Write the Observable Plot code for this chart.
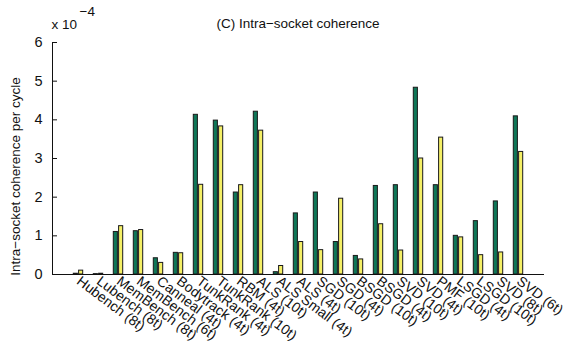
<!DOCTYPE html>
<html>
<head>
<meta charset="utf-8">
<script src="https://cdn.jsdelivr.net/npm/d3@7"></script>
<script src="https://cdn.jsdelivr.net/npm/@observablehq/plot@0.6"></script>
<style>
  html, body { margin: 0; padding: 0; background: #fff; }
  #chart svg { font-family: "Liberation Sans", Arial, sans-serif; }
</style>
</head>
<body>
<div id="chart"></div>
<script>
const categories = [
  "Hubench (8t)", "Lubench (8t)", "MemBench (8t)", "MemBench (6t)", "Canneal (4t)",
  "Bodytrack (4t)", "TunkRank (4t)", "TunkRank (10t)", "RBM (4t)", "ALS (10t)",
  "ALS Small (4t)", "ALS (4t)", "SGD (10t)", "SGD (4t)", "BSGD (10t)", "BSGD (4t)",
  "SVD (10t)", "SVD (4t)", "PMF (10t)", "LSGD (4t)", "LSGD (10t)", "SVD (8t)", "SVD (6t)"
];
const greenValues = [0.02, 0.01, 1.10, 1.12, 0.42, 0.56, 4.13, 3.98, 2.12, 4.21,
  0.06, 1.58, 2.12, 0.84, 0.48, 2.29, 2.31, 4.83, 2.31, 1.00, 1.38, 1.89, 4.09];
const yellowValues = [0.10, 0.02, 1.25, 1.15, 0.30, 0.55, 2.32, 3.83, 2.31, 3.72,
  0.22, 0.84, 0.63, 1.96, 0.39, 1.30, 0.62, 3.00, 3.54, 0.96, 0.50, 0.57, 3.17];
const yTicks = [0, 1, 2, 3, 4, 5, 6];
const titleText = "(C) Intra\u2212socket coherence";
const yLabel = "Intra\u2212socket coherence per cycle";
const exponentBase = "x 10";
const exponentPower = "\u22124";

const greenData = categories.map((c, i) => ({cat: c, v: greenValues[i]}));
const yellowData = categories.map((c, i) => ({cat: c, v: yellowValues[i]}));

const chart = Plot.plot({
  width: 567,
  height: 348,
  marginLeft: 52,
  marginRight: 24,
  marginTop: 42,
  marginBottom: 74,
  style: {fontSize: "13px", fontFamily: "Liberation Sans, Arial, sans-serif", color: "#111"},
  x: {domain: categories, paddingInner: 0.5, paddingOuter: 0.7},
  y: {domain: [0, 6]},
  marks: [
    Plot.barY(greenData, {x: "cat", y: "v", fill: "#0f7657", stroke: "#1a1a1a", strokeWidth: 1, insetRight: 5.6, insetLeft: 0.3}),
    Plot.barY(yellowData, {x: "cat", y: "v", fill: "#f4ef66", stroke: "#1a1a1a", strokeWidth: 1, insetLeft: 5.6, insetRight: 0.3}),
    Plot.axisY({ticks: yTicks, tickFormat: d3.format("d"), tickSize: -5, tickPadding: 15, label: null, fontSize: 14.5}),
    Plot.axisX({tickSize: 0, tickPadding: 5, tickRotate: 37, label: null, fontSize: 14}),
    Plot.frame({anchor: "left", stroke: "#111"}),
    Plot.frame({anchor: "bottom", stroke: "#111"}),
    Plot.text([titleText], {frameAnchor: "top", dy: -24, fontSize: 13.5}),
    Plot.text([exponentBase], {frameAnchor: "top-left", textAnchor: "start", dx: -1, dy: -23, fontSize: 13.5}),
    Plot.text([exponentPower], {frameAnchor: "top-left", textAnchor: "start", dx: 27, dy: -36, fontSize: 13.5}),
    Plot.text([yLabel], {frameAnchor: "left", textAnchor: "middle", rotate: -90, dx: -37, dy: 18, fontSize: 13.5})
  ]
});
document.getElementById("chart").appendChild(chart);
</script>
</body>
</html>
